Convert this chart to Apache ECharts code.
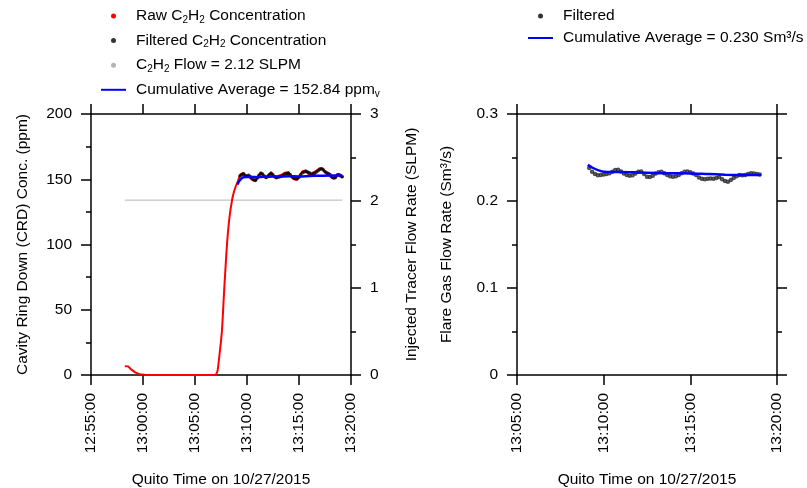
<!DOCTYPE html>
<html>
<head>
<meta charset="utf-8">
<script src="https://cdn.jsdelivr.net/npm/echarts@6/dist/echarts.min.js"></script>
<style>html,body{margin:0;padding:0;background:#fff}#c{width:807px;height:488px}</style>
</head>
<body>
<div id="c"></div>
<script>
// ---------- Left panel data (C2H2 concentration, ppm) ----------
const rawTimes = ["12:58:15","12:58:25","12:58:35","12:58:45","12:58:55","12:59:05","12:59:15","12:59:25","12:59:35","12:59:45","12:59:55","13:00:10","13:00:30","13:01:00","13:02:00","13:03:00","13:04:00","13:05:00","13:06:00","13:07:00","13:07:05",
"13:07:10","13:07:15","13:07:20","13:07:25","13:07:30","13:07:35","13:07:40","13:07:45","13:07:50","13:07:55","13:08:00","13:08:05","13:08:10","13:08:15","13:08:20","13:08:25","13:08:30","13:08:35","13:08:40","13:08:45","13:08:50","13:08:55","13:09:00","13:09:05","13:09:10","13:09:15",
"13:09:20","13:09:30","13:09:40","13:09:50","13:10:00","13:10:10","13:10:20","13:10:30","13:10:40","13:10:50","13:11:00","13:11:10","13:11:20","13:11:30","13:11:40","13:11:50","13:12:00","13:12:10","13:12:20","13:12:30","13:12:40","13:12:50","13:13:00","13:13:10","13:13:20","13:13:30","13:13:40","13:13:50","13:14:00","13:14:10","13:14:20","13:14:30","13:14:40","13:14:50","13:15:00","13:15:10","13:15:20","13:15:30","13:15:40","13:15:50","13:16:00","13:16:10","13:16:20","13:16:30","13:16:40","13:16:50","13:17:00","13:17:10","13:17:20","13:17:30","13:17:40","13:17:50","13:18:00","13:18:10","13:18:20","13:18:30","13:18:40","13:18:50","13:19:00","13:19:10"];
const rawConc = [6.8,6.9,6.5,5.2,3.9,2.9,2.0,1.3,0.8,0.5,0.3,0.15,0.05,0,0,0,0,0,0,0.1,0.8,
3,8,14,20,26,33,44,57,69,80,91,101,109,116,122,127,131,135,138,140.5,142.5,144.5,146,147.5,149.5,151,
153.5,152.5,155,152,153.5,152,153,149.5,150.5,148.5,152,152,155.5,153,153.5,150.5,153,152.5,155.5,152.5,153,150.5,152.5,151,153.5,152,155,153.5,155.5,152.5,153,150,151.5,149.5,152.5,152.5,156,154.5,157,154.5,156,153,155,153.5,156.5,155.5,158.5,157,158,155,156,153.5,154.5,151,152,150.5,154,152.5,153.5,151];

const filtTimes = ["13:09:20","13:09:30","13:09:40","13:09:50","13:10:00","13:10:10","13:10:20","13:10:30","13:10:40","13:10:50","13:11:00","13:11:10","13:11:20","13:11:30","13:11:40","13:11:50","13:12:00","13:12:10","13:12:20","13:12:30","13:12:40","13:12:50","13:13:00","13:13:10","13:13:20","13:13:30","13:13:40","13:13:50","13:14:00","13:14:10","13:14:20","13:14:30","13:14:40","13:14:50","13:15:00","13:15:10","13:15:20","13:15:30","13:15:40","13:15:50","13:16:00","13:16:10","13:16:20","13:16:30","13:16:40","13:16:50","13:17:00","13:17:10","13:17:20","13:17:30","13:17:40","13:17:50","13:18:00","13:18:10","13:18:20","13:18:30","13:18:40","13:18:50","13:19:00","13:19:10"];
const filtConc = [152.5,153.5,154,153,152.5,153,152,150.5,149.5,149.5,151,153,154.5,154,152.5,151.5,152,153.5,154.5,153.5,152,151.5,151.5,152,152.5,153,154,154.5,154.5,153.5,152,151,150.5,150.5,151.5,153.5,155,155.5,156,155.5,155,154,154,154.5,155.5,156.5,157.5,158,157,156,155,154.5,153.5,152,151,151.5,153,153.5,152.5,152];

const flowTimes = ["12:58:15","13:19:10"];
const flowSLPM = [2.01,2.01];

const avgTimes = ["13:09:05","13:09:10","13:09:20","13:09:30","13:09:40","13:10:00","13:10:30","13:11:00","13:11:30","13:12:00","13:13:00","13:14:00","13:15:00","13:16:00","13:17:00","13:18:00","13:19:10"];
const avgConc = [146,147.5,149.5,150.8,151.5,151.8,151.8,151.6,151.9,152.0,152.1,152.3,152.2,152.5,152.7,152.9,152.84];

// ---------- Right panel data (flare gas flow, Sm3/s) ----------
const flareTimes = ["13:09:10","13:09:20","13:09:30","13:09:40","13:09:50","13:10:00","13:10:10","13:10:20","13:10:30","13:10:40","13:10:50","13:11:00","13:11:10","13:11:20","13:11:30","13:11:40","13:11:50","13:12:00","13:12:10","13:12:20","13:12:30","13:12:40","13:12:50","13:13:00","13:13:10","13:13:20","13:13:30","13:13:40","13:13:50","13:14:00","13:14:10","13:14:20","13:14:30","13:14:40","13:14:50","13:15:00","13:15:10","13:15:20","13:15:30","13:15:40","13:15:50","13:16:00","13:16:10","13:16:20","13:16:30","13:16:40","13:16:50","13:17:00","13:17:10","13:17:20","13:17:30","13:17:40","13:17:50","13:18:00","13:18:10","13:18:20","13:18:30","13:18:40","13:18:50","13:19:00"];
const flareFlow = [0.238,0.2335,0.231,0.2295,0.2300,0.2305,0.231,0.232,0.2335,0.2355,0.2360,0.234,0.2315,0.230,0.2290,0.2295,0.2315,0.2335,0.2340,0.2310,0.2280,0.2275,0.2290,0.2315,0.2330,0.2335,0.2320,0.2300,0.2285,0.2280,0.2285,0.2300,0.2320,0.2335,0.2340,0.2330,0.2315,0.2300,0.2270,0.2255,0.2250,0.2255,0.2260,0.2255,0.2265,0.2275,0.2250,0.2230,0.2220,0.2240,0.2265,0.2285,0.2300,0.2295,0.2300,0.2310,0.2320,0.2315,0.2310,0.2305];

const flareAvgTimes = ["13:09:05","13:09:20","13:09:40","13:10:00","13:10:30","13:11:00","13:12:00","13:13:00","13:14:00","13:15:00","13:16:00","13:17:00","13:18:00","13:19:05"];
const flareAvg = [0.2415,0.2385,0.2355,0.2337,0.2333,0.2333,0.2328,0.2322,0.2318,0.2317,0.2310,0.2303,0.2300,0.2300];

// tick settings
const leftXMin = "12:55:00", rightXMin = "13:05:00", xMax = "13:20:00";

// ---------- helpers ----------
function sec(s){const p=s.split(':').map(Number);return p[0]*3600+p[1]*60+p[2];}
function hms(v){const h=Math.floor(v/3600),m=Math.floor((v%3600)/60),s=Math.round(v%60);const z=n=>String(n).padStart(2,'0');return z(h)+':'+z(m)+':'+z(s);}
function pairs(t,v){return t.map((x,i)=>[sec(x),v[i]]);}

const FONT = 'Liberation Sans, Arial, sans-serif';
const FS = 15.5;
const black = '#000';
const lineW = 1.5;

function xAx(grid, min, bottom){
  return {
    gridIndex:grid, type:'value', min:sec(min), max:sec(xMax), interval:300,
    position: bottom?'bottom':'top',
    axisLine:{show:true,onZero:false,lineStyle:{color:black,width:lineW}},
    axisTick:{show:true,length:10,lineStyle:{color:black,width:lineW}},
    axisLabel:{show:bottom,rotate:90,margin:18,formatter:v=>hms(v),color:black,fontSize:FS,fontFamily:FONT,showMinLabel:true,showMaxLabel:true},
    splitLine:{show:false},
    name: bottom?'Quito Time on 10/27/2015':'', nameLocation:'middle', nameGap:97,
    nameTextStyle:{color:black,fontSize:FS,fontFamily:FONT}
  };
}
function yAx(grid,min,max,interval,pos,opts){
  return Object.assign({
    gridIndex:grid, type:'value', min:min, max:max, interval:interval, position:pos,
    axisLine:{show:true,onZero:false,lineStyle:{color:black,width:lineW}},
    axisTick:{show:true,length:10,lineStyle:{color:black,width:lineW}},
    minorTick:{show:true,splitNumber:2,length:5,lineStyle:{color:black,width:lineW}},
    axisLabel:{show:true,margin:19,color:black,fontSize:FS,fontFamily:FONT},
    splitLine:{show:false}, minorSplitLine:{show:false},
    nameLocation:'middle', nameRotate:90,
    nameTextStyle:{color:black,fontSize:FS,fontFamily:FONT}
  },opts||{});
}

const legendFmt = n => n.replace(/C2H2/g,'C{s|2}H{s|2}').replace('ppm_v','ppm{s|v}');
const legendText = {color:black,fontSize:FS,fontFamily:FONT,padding:[0,0,0,5],
  rich:{s:{fontSize:10,fontFamily:FONT,color:black,verticalAlign:'bottom',padding:[8,0,0,0]}}};

const chart = echarts.init(document.getElementById('c'),null,{renderer:'canvas'});
chart.setOption({
  animation:false,
  backgroundColor:'#fff',
  grid:[
    {left:91,right:456,top:114,bottom:113,outerBoundsMode:'none',containLabel:false},
    {left:517,right:30,top:114,bottom:113,outerBoundsMode:'none',containLabel:false}
  ],
  legend:[
    {left:95,top:3,orient:'vertical',itemWidth:25,itemHeight:5,itemGap:7.6,
     data:[{name:'Raw C2H2 Concentration',icon:'circle'},{name:'Filtered C2H2 Concentration',icon:'circle'},{name:'C2H2 Flow = 2.12 SLPM',icon:'circle'},{name:'Cumulative Average = 152.84 ppm_v',itemStyle:{opacity:0}}],
     formatter:legendFmt,textStyle:legendText},
    {left:522,top:3,orient:'vertical',itemWidth:25,itemHeight:5,itemGap:6,
     data:[{name:'Filtered',icon:'circle',itemStyle:{color:'#000',borderWidth:0}},{name:'Cumulative Average = 0.230 Sm³/s',itemStyle:{opacity:0}}],
     textStyle:legendText}
  ],
  xAxis:[xAx(0,leftXMin,true),xAx(0,leftXMin,false),xAx(1,rightXMin,true),xAx(1,rightXMin,false)],
  yAxis:[
    yAx(0,0,200,50,'left',{name:'Cavity Ring Down (CRD) Conc. (ppm)',nameGap:60}),
    yAx(0,0,3,1,'right',{name:'Injected Tracer Flow Rate (SLPM)',nameGap:53}),
    yAx(1,0,0.3,0.1,'left',{name:'Flare Gas Flow Rate (Sm³/s)',nameGap:62,
      axisLabel:{show:true,margin:19,color:black,fontSize:FS,fontFamily:FONT,formatter:v=>v===0?'0':v.toFixed(1)}}),
    yAx(1,0,0.3,0.1,'right',{axisLabel:{show:false}})
  ],
  series:[
    {name:'Raw C2H2 Concentration',type:'line',xAxisIndex:0,yAxisIndex:0,data:pairs(rawTimes,rawConc),
     showSymbol:false,symbol:'circle',color:'#ff0000',lineStyle:{color:'#ff0000',width:2},z:2},
    {name:'Filtered C2H2 Concentration',type:'scatter',xAxisIndex:0,yAxisIndex:0,data:pairs(filtTimes,filtConc),
     symbol:'circle',symbolSize:3.5,itemStyle:{color:'#000'},z:3},
    {name:'C2H2 Flow = 2.12 SLPM',type:'line',xAxisIndex:0,yAxisIndex:1,data:pairs(flowTimes,flowSLPM),
     showSymbol:false,symbol:'circle',color:'#b4b4b4',lineStyle:{color:'#b4b4b4',width:1},z:1},
    {name:'Cumulative Average = 152.84 ppm_v',type:'line',xAxisIndex:0,yAxisIndex:0,data:pairs(avgTimes,avgConc),
     showSymbol:false,symbol:'none',smooth:0.3,color:'#0000ff',lineStyle:{color:'#0000ff',width:2.5},z:4},
    {name:'Filtered',type:'scatter',xAxisIndex:2,yAxisIndex:2,data:pairs(flareTimes,flareFlow),
     symbol:'emptyCircle',symbolSize:2.5,itemStyle:{color:'#222',borderWidth:1},z:3},
    {name:'Cumulative Average = 0.230 Sm³/s',type:'line',xAxisIndex:2,yAxisIndex:2,data:pairs(flareAvgTimes,flareAvg),
     showSymbol:false,symbol:'none',smooth:0.3,color:'#0000ff',lineStyle:{color:'#0000ff',width:2.5},z:4}
  ]
});
</script>
</body>
</html>
